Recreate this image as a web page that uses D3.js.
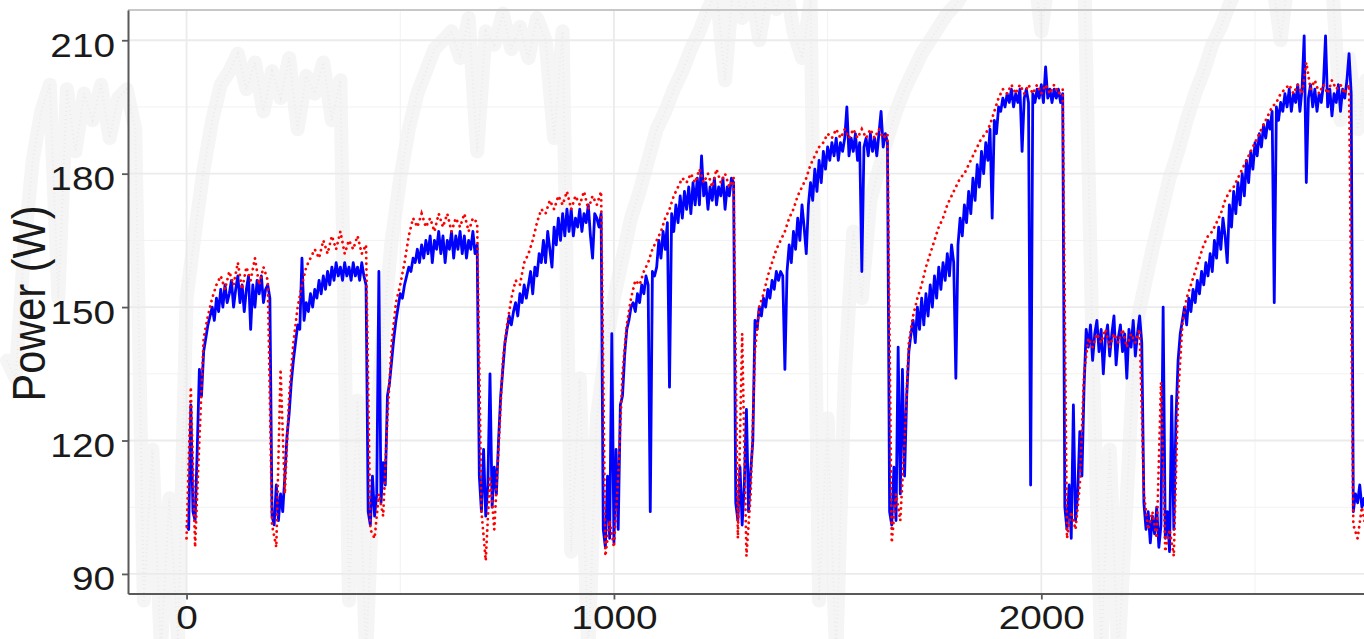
<!DOCTYPE html>
<html>
<head>
<meta charset="utf-8">
<script src="https://cdn.jsdelivr.net/npm/d3@7"></script>
<style>
  html, body { margin: 0; padding: 0; background: #fff; overflow: hidden; }
  svg { display: block; }
</style>
</head>
<body>
<svg id="chart"></svg>
<script>
// Measured power, one value every 5 samples starting at sample 0
const measuredStep = 5;
const measuredPower = [
  101,100,128,104,102,118,136,130,140,143,146,148,150,147,152,149,154,150,155,151,
  153,156,150,154,157,151,155,149,154,157,145,155,150,156,153,157,151,154,155,152,
  103,101,110,102,108,104,112,121,126,133,138,142,146,145,161,147,151,149,153,150,
  154,152,156,153,157,154,158,155,159,156,160,157,159,156,160,157,159,156,160,157,
  159,156,160,157,155,104,101,112,103,108,158,106,115,110,130,133,138,143,147,150,
  153,152,155,157,159,158,161,160,163,160,164,161,165,162,166,160,165,163,167,162,
  166,160,165,163,167,161,166,163,167,162,166,161,165,163,167,162,164,112,104,118,
  103,110,135,105,114,108,120,130,136,142,145,148,146,149,151,148,153,151,155,152,
  155,158,153,159,157,162,160,165,160,167,163,159,168,164,170,165,171,166,172,167,
  172,166,170,168,172,167,171,169,173,166,161,171,170,168,171,100,96,112,98,144,
  97,118,100,128,130,139,145,147,150,151,149,153,151,155,153,157,155,104,158,157,
  159,165,161,167,163,169,132,171,167,173,169,175,170,176,172,177,171,178,173,179,
  173,184,175,178,172,177,174,179,173,177,175,179,172,177,175,179,178,106,102,114,
  101,110,127,104,113,120,147,145,150,148,152,150,154,152,156,154,158,156,158,157,
  136,158,164,160,167,163,170,165,173,168,162,173,178,174,181,176,183,178,185,181,
  186,183,187,184,188,183,187,185,188,195,184,188,185,189,183,187,158,186,188,184,
  189,185,188,184,189,194,186,189,187,104,101,114,102,141,108,136,112,130,140,144,
  147,142,150,145,152,146,153,148,155,150,157,152,159,154,160,156,162,157,164,160,
  134,164,170,166,173,169,176,171,179,174,182,177,185,180,187,183,190,170,192,189,
  195,194,197,195,198,196,199,195,198,196,199,185,197,199,196,110,198,196,199,197,
  200,196,204,197,199,196,199,197,199,196,198,105,100,110,98,128,102,108,122,112,
  132,145,141,146,138,144,147,140,145,135,143,146,139,144,148,137,143,146,140,144,
  134,145,141,147,139,144,148,142,106,100,104,97,103,99,105,96,101,150,98,104,
  95,130,100,125,138,144,147,150,146,152,149,154,151,156,153,158,155,160,157,162,
  158,165,161,168,163,170,166,160,173,168,176,171,178,173,180,175,183,178,185,181,
  187,184,189,186,191,188,192,190,194,151,195,192,196,194,198,195,199,194,198,196,
  200,194,199,211,178,197,200,195,199,194,198,196,200,211,195,199,193,198,196,200,
  194,199,197,201,207,198,104,108,106,110,105,107,104
];

// Predicted power, one value every 10 samples starting at sample 0
const predictedStep = 10;
const predictedPower = [
  98,132,96,120,143,148,152,155,157,154,
  158,155,160,154,159,156,161,155,159,156,
  101,96,136,108,130,142,150,155,159,161,
  163,161,165,162,166,163,167,162,165,163,
  166,162,164,100,98,108,103,125,142,151,
  155,160,166,170,168,171,168,170,167,171,
  168,171,167,170,168,171,167,170,169,104,
  93,112,100,118,138,146,152,156,155,160,
  162,165,169,172,171,174,172,175,173,176,
  172,175,173,176,172,175,173,176,94,102,
  96,112,135,146,152,156,155,158,160,163,
  165,167,170,172,175,177,179,178,180,178,
  181,178,180,177,181,178,180,177,179,98,
  144,94,108,140,150,153,157,160,163,165,
  167,170,172,175,177,179,182,184,186,187,
  189,188,190,188,190,188,190,188,190,188,
  190,188,190,188,189,97,108,102,120,142,
  148,152,155,159,162,165,168,170,173,175,
  177,179,180,182,184,186,188,189,191,194,
  197,199,198,200,198,200,198,200,198,200,
  198,200,198,200,198,199,98,104,100,110,
  135,143,141,144,142,145,141,144,142,145,
  141,144,142,145,108,100,104,98,133,95,
  100,94,130,146,152,155,158,161,164,166,
  167,169,171,174,176,177,179,181,183,185,
  187,189,191,193,195,196,198,199,200,198,
  200,198,205,199,201,198,200,198,201,199,
  200,198,200,101,98,105,100
];

// Faint grey background trace, one value every 20 samples starting at sample -420
const ghostStart = -420;
const ghostStep = 20;
const ghostPower = [
  138,134,163,183,
  194,200,152,199,185,198,192,200,188,197,199,190,84,118,73,107,
  75,152,167,181,192,200,203,207,199,205,194,203,197,206,190,202,
  198,205,192,201,84,129,71,118,145,165,179,190,198,203,208,210,
  212,206,215,185,212,209,216,208,213,206,215,210,188,212,95,134,
  71,125,140,152,161,170,176,183,190,194,199,203,208,212,217,221,
  201,224,215,222,210,221,217,224,212,206,219,84,125,71,134,167,
  152,174,181,188,194,199,203,207,210,213,216,218,221,226,228,224,
  228,226,228,224,228,212,226,228,224,228,226,140,73,118,71,107,
  145,154,163,171,179,185,192,198,203,209,213,218,222,226,226,228,
  224,210,226,228,224,226,228,224,192,206,190,201
];

const xTicks = [0, 1000, 2000];
const xMinorTicks = [500, 1500, 2500];
const yTicks = [90, 120, 150, 180, 210];
const yMinorTicks = [105, 135, 165, 195];

const svgWidth = 1364;
const svgHeight = 639;
const panelLeft = 128;
const panelTop = 10;
const panelBottom = 593.5;
const panelRight = 1367;
const textStretch = 1.14;

const svg = d3.select("#chart")
  .attr("width", svgWidth)
  .attr("height", svgHeight);

svg.append("rect")
  .attr("width", svgWidth)
  .attr("height", svgHeight)
  .attr("fill", "white");

const x = d3.scaleLinear()
  .domain([-137, 2762])
  .range([panelLeft, panelRight]);

const y = d3.scaleLinear()
  .domain([85.6, 216.8])
  .range([panelBottom, panelTop]);

// faint trace showing through behind the plot
const ghostLine = d3.line()
  .x((d, i) => x(ghostStart + i * ghostStep))
  .y(d => y(d));

svg.append("path")
  .datum(ghostPower)
  .attr("fill", "none")
  .attr("stroke", "#f5f5f5")
  .attr("stroke-width", 14)
  .attr("stroke-linejoin", "round")
  .attr("stroke-linecap", "round")
  .attr("d", ghostLine);

svg.append("path")
  .datum(ghostPower)
  .attr("fill", "none")
  .attr("stroke", "#ebebeb")
  .attr("stroke-width", 2)
  .attr("stroke-dasharray", "1 3")
  .attr("d", ghostLine);

// grid lines
const grid = svg.append("g");

grid.selectAll(".ymin")
  .data(yMinorTicks)
  .join("line")
  .attr("x1", panelLeft).attr("x2", panelRight)
  .attr("y1", d => y(d)).attr("y2", d => y(d))
  .attr("stroke", "#f2f2f2")
  .attr("stroke-width", 1);

grid.selectAll(".xmin")
  .data(xMinorTicks)
  .join("line")
  .attr("x1", d => x(d)).attr("x2", d => x(d))
  .attr("y1", panelTop).attr("y2", panelBottom)
  .attr("stroke", "#f2f2f2")
  .attr("stroke-width", 1);

grid.selectAll(".ymaj")
  .data(yTicks)
  .join("line")
  .attr("x1", panelLeft).attr("x2", panelRight)
  .attr("y1", d => y(d)).attr("y2", d => y(d))
  .attr("stroke", "#ebebeb")
  .attr("stroke-width", 1.8);

grid.selectAll(".xmaj")
  .data(xTicks)
  .join("line")
  .attr("x1", d => x(d)).attr("x2", d => x(d))
  .attr("y1", panelTop).attr("y2", panelBottom)
  .attr("stroke", "#ebebeb")
  .attr("stroke-width", 1.8);

// top panel border
svg.append("line")
  .attr("x1", panelLeft).attr("x2", panelRight)
  .attr("y1", panelTop).attr("y2", panelTop)
  .attr("stroke", "#c8c8c8")
  .attr("stroke-width", 2);

svg.append("clipPath")
  .attr("id", "panel-clip")
  .append("rect")
  .attr("x", panelLeft)
  .attr("y", panelTop)
  .attr("width", panelRight - panelLeft)
  .attr("height", panelBottom - panelTop);

const plot = svg.append("g").attr("clip-path", "url(#panel-clip)");

const measuredLine = d3.line()
  .x((d, i) => x(i * measuredStep))
  .y(d => y(d));

const predictedLine = d3.line()
  .x((d, i) => x(i * predictedStep))
  .y(d => y(d));

plot.append("path")
  .datum(measuredPower)
  .attr("fill", "none")
  .attr("stroke", "#0000ff")
  .attr("stroke-width", 2.8)
  .attr("stroke-linejoin", "round")
  .attr("d", measuredLine);

plot.append("path")
  .datum(predictedPower)
  .attr("fill", "none")
  .attr("stroke", "#ff0000")
  .attr("stroke-width", 2.8)
  .attr("stroke-linecap", "round")
  .attr("stroke-dasharray", "0.1 5.6")
  .attr("d", predictedLine);

// axes
const yAxis = svg.append("g")
  .attr("transform", `translate(${panelLeft},0)`)
  .call(d3.axisLeft(y).tickValues(yTicks).tickSize(6).tickSizeOuter(0));

const xAxis = svg.append("g")
  .attr("transform", `translate(0,${panelBottom})`)
  .call(d3.axisBottom(x).tickValues(xTicks).tickFormat(d3.format("d")).tickSize(6).tickSizeOuter(0));

[xAxis, yAxis].forEach(g => {
  g.select(".domain").attr("stroke", "#595959").attr("stroke-width", 2);
  g.selectAll(".tick line").attr("stroke", "#595959").attr("stroke-width", 1.8);
  g.selectAll(".tick text")
    .attr("fill", "#1a1a1a")
    .style("font-family", "'Liberation Sans', Arial, Helvetica, sans-serif")
    .style("font-size", "34px")
    .attr("transform", `scale(${textStretch},1)`);
});

yAxis.selectAll(".tick text")
  .attr("x", -13 / textStretch)
  .attr("dy", null)
  .attr("y", 16);

xAxis.selectAll(".tick text")
  .attr("dy", null)
  .attr("y", 36);

svg.append("text")
  .attr("transform", "translate(45,303.5) scale(1.1,1) rotate(-90)")
  .attr("text-anchor", "middle")
  .attr("fill", "#1a1a1a")
  .style("font-family", "'Liberation Sans', Arial, Helvetica, sans-serif")
  .style("font-size", "41.5px")
  .text("Power (W)");
</script>
</body>
</html>
